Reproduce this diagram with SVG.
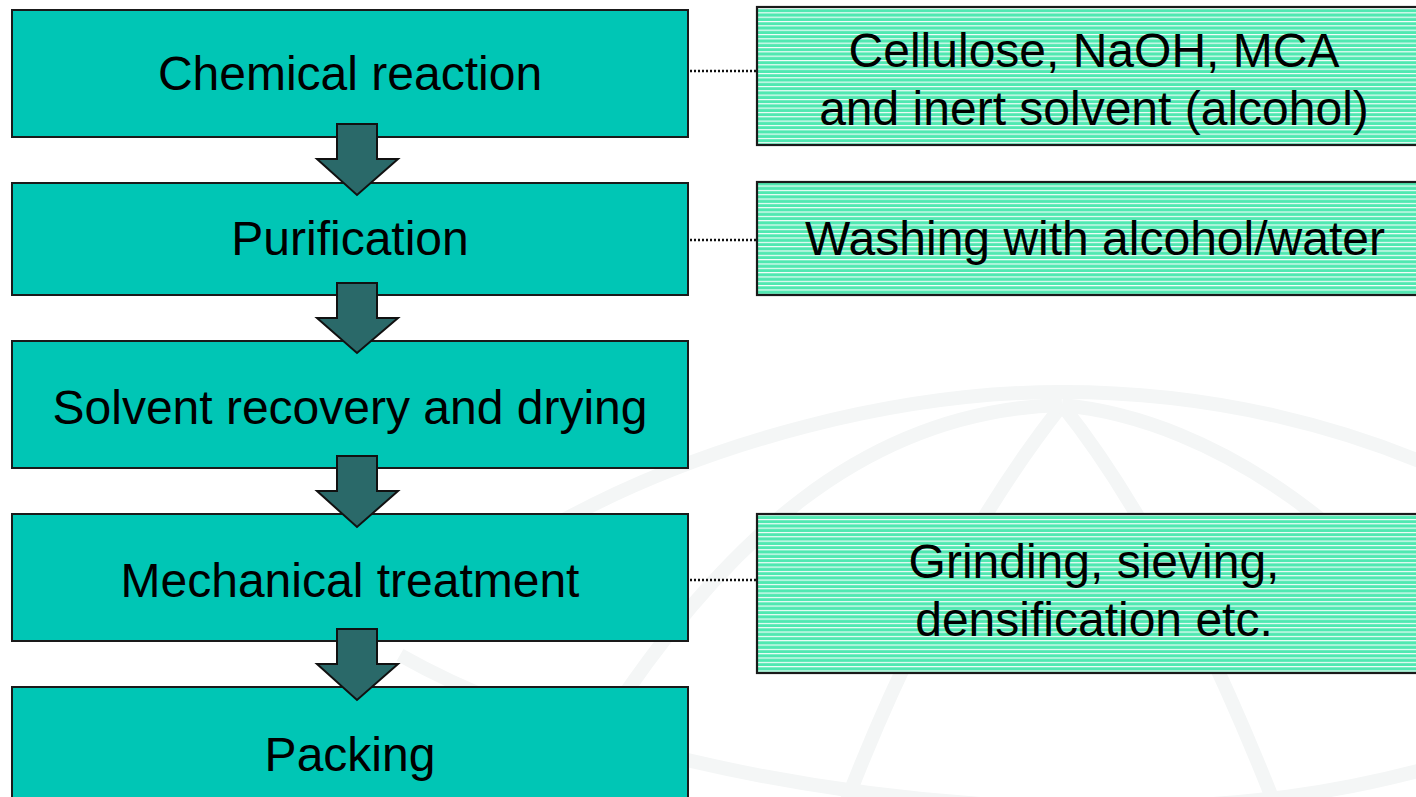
<svg xmlns="http://www.w3.org/2000/svg" width="1416" height="797" viewBox="0 0 1416 797">
<defs>
<pattern id="hatch" patternUnits="userSpaceOnUse" x="0" y="8" width="20" height="4.33">
<rect x="0" y="0" width="20" height="4.33" fill="#50E8B1"/>
<rect x="0" y="0" width="20" height="1.1" fill="#FFFFFF"/>
</pattern>
<style>
.wm{fill:none;stroke:#F4F6F6;stroke-width:14}
.step{fill:#00C6B5;stroke:#1A1A1A;stroke-width:2}
.note{fill:url(#hatch);stroke:#1A1A1A;stroke-width:2.2}
.arrow{fill:#2A6969;stroke:#111111;stroke-width:2;stroke-linejoin:miter}
.dot{stroke:#111111;stroke-width:2.5;stroke-dasharray:2 2;fill:none}
text{font-family:"Liberation Sans",Arial,sans-serif;font-size:48px;fill:#000000;text-anchor:middle}
</style>
</defs>
<rect width="1416" height="797" fill="#FFFFFF"/>
<g id="watermark">
<path class="wm" d="M560 522 C710 440 900 392 1062 392 C1220 392 1350 430 1440 470"/>
<path class="wm" d="M400 655 C550 740 800 800 1060 808 C1250 810 1350 790 1440 765"/>
<path class="wm" d="M1062 405 Q940 560 847 800"/>
<path class="wm" d="M1062 405 Q1170 540 1273 800"/>
<path class="wm" d="M1062 405 C880 410 720 520 560 797"/>
<path class="wm" d="M1062 405 C1220 420 1380 540 1480 700"/>
</g>
<g id="connectors">
<line class="dot" x1="690" y1="71" x2="757" y2="71"/>
<line class="dot" x1="690" y1="240" x2="757" y2="240"/>
<line class="dot" x1="690" y1="580" x2="757" y2="580"/>
</g>
<g id="step1">
<rect class="step" x="12" y="10" width="676" height="127"/>
<text x="350" y="90">Chemical reaction</text>
</g>
<g id="step2">
<rect class="step" x="12" y="183" width="676" height="112"/>
<text x="350" y="255">Purification</text>
</g>
<g id="step3">
<rect class="step" x="12" y="341" width="676" height="127"/>
<text x="350" y="424">Solvent recovery and drying</text>
</g>
<g id="step4">
<rect class="step" x="12" y="514" width="676" height="127"/>
<text x="350" y="597">Mechanical treatment</text>
</g>
<g id="step5">
<rect class="step" x="12" y="687" width="676" height="130"/>
<text x="350" y="771">Packing</text>
</g>
<g id="arrows">
<path class="arrow" d="M337 124 H377 V159 H398 L357 195 L317 159 H337 Z"/>
<path class="arrow" d="M337 283 H377 V318 H398 L357 353 L317 318 H337 Z"/>
<path class="arrow" d="M337 456 H377 V491 H398 L357 527 L317 491 H337 Z"/>
<path class="arrow" d="M337 629 H377 V664 H398 L357 700 L317 664 H337 Z"/>
</g>
<g id="note1">
<rect class="note" x="757" y="7" width="680" height="138"/>
<text x="1094" y="67">Cellulose, NaOH, MCA</text>
<text x="1094" y="125">and inert solvent (alcohol)</text>
</g>
<g id="note2">
<rect class="note" x="757" y="182" width="680" height="113"/>
<text x="1095" y="255">Washing with alcohol/water</text>
</g>
<g id="note3">
<rect class="note" x="757" y="514" width="680" height="159"/>
<text x="1094" y="578">Grinding, sieving,</text>
<text x="1094" y="636">densification etc.</text>
</g>
</svg>
